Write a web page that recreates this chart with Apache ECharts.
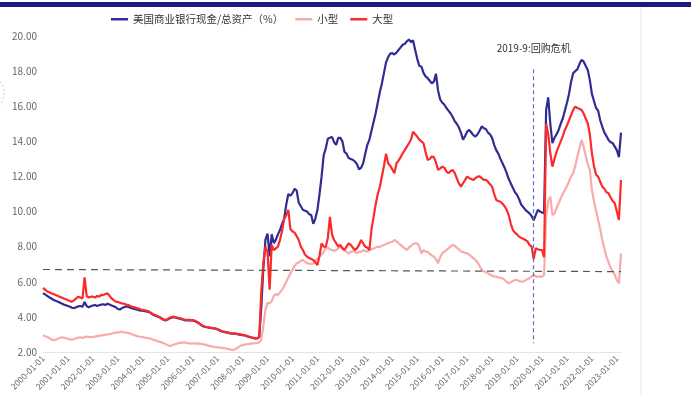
<!DOCTYPE html>
<html>
<head>
<meta charset="utf-8">
<script src="https://cdn.jsdelivr.net/npm/echarts@6/dist/echarts.min.js"></script>
<style>
  html, body { margin: 0; padding: 0; background: #fff; }
  #chart { width: 691px; height: 396px; }
</style>
</head>
<body>
<div id="chart"></div>
<script>
// monthly samples, 2000-01 .. 2023-03
const totalRatio = [
  5.35, 5.28, 5.20, 5.12, 5.05, 4.98, 4.92, 4.88, 4.82, 4.76, 4.70, 4.66,
  4.62, 4.58, 4.52, 4.50, 4.55, 4.60, 4.62, 4.58, 4.85, 4.62, 4.55, 4.60,
  4.65, 4.68, 4.62, 4.66, 4.70, 4.72, 4.68, 4.75, 4.70, 4.65, 4.60, 4.55,
  4.45, 4.42, 4.50, 4.55, 4.60, 4.58, 4.52, 4.48, 4.45, 4.42, 4.38, 4.35,
  4.35, 4.32, 4.30, 4.28, 4.20, 4.12, 4.07, 4.03, 3.98, 3.90, 3.84, 3.80,
  3.85, 3.92, 3.97, 3.98, 3.95, 3.92, 3.90, 3.86, 3.82, 3.80, 3.82, 3.80,
  3.80, 3.76, 3.70, 3.63, 3.54, 3.47, 3.43, 3.41, 3.38, 3.36, 3.34, 3.33,
  3.28, 3.23, 3.17, 3.15, 3.12, 3.10, 3.06, 3.04, 3.05, 3.03, 3.00, 2.98,
  2.96, 2.94, 2.90, 2.86, 2.84, 2.80, 2.78, 2.78, 2.85, 4.60, 6.80, 8.40,
  8.75, 7.45, 8.70, 8.20, 8.40, 8.70, 8.95, 9.30, 9.60, 10.40, 11.00, 10.90,
  11.05, 11.30, 11.20, 10.50, 10.30, 10.10, 10.05, 10.00, 9.85, 9.80, 9.30, 9.60,
  10.10, 11.00, 12.00, 13.20, 13.60, 14.15, 14.20, 14.25, 13.95, 13.80, 14.20, 14.20,
  14.00, 13.40, 13.30, 13.05, 13.00, 12.95, 12.85, 12.70, 12.40, 12.50, 12.75, 13.30,
  13.80, 14.10, 14.60, 15.10, 15.60, 16.20, 16.80, 17.30, 17.90, 18.50, 18.80, 19.00,
  19.02, 18.95, 19.05, 19.20, 19.35, 19.50, 19.55, 19.70, 19.80, 19.65, 19.75, 19.20,
  18.70, 18.30, 18.25, 17.90, 17.70, 17.60, 17.45, 17.30, 17.40, 17.85, 16.90, 16.40,
  16.20, 16.10, 15.90, 15.75, 15.60, 15.40, 15.15, 15.00, 14.80, 14.50, 14.10, 14.30,
  14.55, 14.65, 14.50, 14.35, 14.27, 14.40, 14.60, 14.85, 14.75, 14.70, 14.50, 14.40,
  14.20, 13.80, 13.50, 13.30, 13.00, 12.75, 12.50, 12.20, 11.85, 11.60, 11.35, 11.10,
  10.95, 10.70, 10.40, 10.25, 10.10, 10.00, 9.90, 9.75, 9.50, 9.80, 10.10, 10.00,
  9.95, 9.90, 15.80, 16.50, 15.00, 13.90, 14.20, 14.40, 14.65, 15.00, 15.30, 15.75,
  16.20, 16.70, 17.40, 17.88, 18.00, 18.10, 18.40, 18.64, 18.55, 18.30, 18.07, 17.50,
  16.70, 16.30, 15.90, 15.75, 15.20, 14.84, 14.50, 14.30, 14.08, 13.95, 13.90, 13.70,
  13.50, 13.10, 14.50
];
const smallBanks = [
  2.95, 2.90, 2.85, 2.80, 2.72, 2.68, 2.70, 2.75, 2.80, 2.84, 2.82, 2.78,
  2.75, 2.72, 2.70, 2.74, 2.78, 2.82, 2.84, 2.80, 2.85, 2.88, 2.86, 2.84,
  2.86, 2.88, 2.90, 2.92, 2.95, 2.96, 2.98, 3.00, 3.02, 3.05, 3.08, 3.10,
  3.12, 3.14, 3.16, 3.12, 3.10, 3.08, 3.05, 3.00, 2.96, 2.92, 2.88, 2.87,
  2.85, 2.82, 2.80, 2.78, 2.75, 2.70, 2.66, 2.62, 2.59, 2.55, 2.50, 2.45,
  2.38, 2.34, 2.38, 2.42, 2.46, 2.50, 2.52, 2.53, 2.55, 2.52, 2.50, 2.48,
  2.50, 2.48, 2.49, 2.48, 2.46, 2.44, 2.42, 2.38, 2.35, 2.32, 2.30, 2.27,
  2.27, 2.25, 2.24, 2.22, 2.20, 2.18, 2.15, 2.11, 2.14, 2.20, 2.28, 2.35,
  2.40, 2.42, 2.44, 2.46, 2.48, 2.49, 2.50, 2.52, 2.55, 2.70, 3.50, 4.40,
  4.80, 4.77, 4.90, 5.20, 5.30, 5.25, 5.40, 5.55, 5.75, 6.00, 6.25, 6.48,
  6.67, 6.90, 7.05, 7.10, 7.20, 7.24, 7.15, 7.05, 7.05, 7.00, 7.05, 7.20,
  7.30, 7.43, 7.55, 7.70, 7.91, 7.95, 7.85, 7.81, 7.75, 7.81, 7.90, 7.99,
  7.95, 7.80, 7.70, 7.62, 7.70, 7.75, 7.70, 7.62, 7.70, 7.72, 7.80, 7.75,
  7.72, 7.80, 7.85, 7.90, 7.95, 8.00, 7.99, 8.05, 8.10, 8.15, 8.19, 8.25,
  8.28, 8.38, 8.30, 8.20, 8.10, 8.00, 7.90, 7.81, 7.95, 8.05, 8.15, 8.19,
  8.19, 8.00, 7.62, 7.80, 7.72, 7.70, 7.60, 7.50, 7.43, 7.30, 7.05, 7.40,
  7.62, 7.70, 7.80, 7.90, 8.00, 8.10, 8.05, 7.95, 7.85, 7.72, 7.70, 7.65,
  7.62, 7.55, 7.45, 7.35, 7.24, 7.10, 6.90, 6.67, 6.60, 6.55, 6.48, 6.40,
  6.35, 6.30, 6.29, 6.25, 6.22, 6.20, 6.10, 6.00, 5.91, 5.98, 6.05, 6.10,
  6.10, 6.05, 6.00, 6.02, 6.08, 6.15, 6.20, 6.30, 6.39, 6.29, 6.30, 6.29,
  6.29, 6.40, 9.70, 10.60, 10.85, 9.80, 9.90, 10.20, 10.47, 10.75, 11.00, 11.23,
  11.45, 11.70, 12.00, 12.18, 12.60, 13.13, 13.60, 14.08, 13.70, 13.20, 12.70, 12.37,
  11.23, 10.60, 10.05, 9.52, 9.00, 8.38, 7.90, 7.43, 7.10, 6.80, 6.60, 6.40,
  6.10, 5.91, 7.62
];
const largeBanks = [
  5.65, 5.55, 5.45, 5.40, 5.34, 5.30, 5.25, 5.20, 5.15, 5.10, 5.05, 5.00,
  4.95, 4.90, 4.87, 4.95, 5.05, 5.15, 5.10, 5.05, 6.25, 5.20, 5.10, 5.15,
  5.15, 5.10, 5.20, 5.15, 5.25, 5.24, 5.30, 5.34, 5.20, 5.05, 4.95, 4.87,
  4.85, 4.80, 4.77, 4.75, 4.70, 4.68, 4.62, 4.58, 4.55, 4.50, 4.48, 4.42,
  4.40, 4.38, 4.35, 4.30, 4.22, 4.15, 4.10, 4.05, 4.00, 3.92, 3.86, 3.82,
  3.88, 3.95, 4.00, 4.01, 3.98, 3.95, 3.92, 3.88, 3.85, 3.82, 3.84, 3.82,
  3.82, 3.78, 3.72, 3.65, 3.55, 3.48, 3.44, 3.42, 3.40, 3.38, 3.36, 3.35,
  3.30, 3.25, 3.18, 3.16, 3.14, 3.12, 3.08, 3.06, 3.06, 3.04, 3.02, 3.00,
  2.98, 2.96, 2.92, 2.88, 2.85, 2.80, 2.78, 2.78, 2.85, 5.50, 7.10, 8.00,
  7.70, 5.55, 8.10, 7.80, 7.90, 8.00, 8.40, 8.90, 9.60, 9.80, 10.10, 9.00,
  8.86, 8.80, 8.60, 8.38, 8.00, 7.81, 7.55, 7.43, 7.35, 7.30, 7.24, 7.10,
  6.96, 7.50, 8.19, 8.00, 7.99, 8.50, 9.70, 8.70, 8.38, 8.20, 8.00, 8.10,
  7.90, 7.81, 8.00, 8.19, 8.10, 7.95, 7.81, 7.90, 8.10, 8.38, 8.19, 8.00,
  7.95, 7.81, 9.00, 9.70, 10.40, 11.00, 11.40, 12.00, 12.60, 13.30, 12.75, 12.60,
  12.40, 12.18, 12.75, 12.90, 13.10, 13.32, 13.50, 13.70, 13.89, 14.10, 14.55, 14.40,
  14.27, 14.10, 14.00, 13.89, 13.40, 12.94, 13.00, 13.13, 13.10, 12.80, 12.37, 12.45,
  12.56, 12.50, 12.30, 12.18, 12.30, 12.37, 12.20, 11.90, 11.61, 11.42, 11.60, 11.80,
  11.99, 11.90, 11.85, 11.80, 11.90, 11.99, 12.00, 11.90, 11.80, 11.80, 11.70, 11.55,
  11.42, 11.00, 10.66, 10.60, 10.56, 10.45, 10.30, 10.10, 9.80, 9.30, 8.95, 8.80,
  8.70, 8.57, 8.50, 8.45, 8.38, 8.30, 8.10, 8.00, 7.30, 7.91, 7.85, 7.81,
  7.81, 7.40, 15.00, 14.40, 13.32, 12.56, 13.00, 13.40, 13.70, 14.00, 14.30, 14.65,
  14.90, 15.20, 15.50, 15.79, 15.98, 15.90, 15.85, 15.79, 15.60, 15.30, 15.03, 14.40,
  13.32, 12.60, 12.10, 11.99, 11.70, 11.42, 11.30, 11.10, 11.04, 10.80, 10.60, 10.47,
  10.00, 9.52, 11.80
];

const seriesNames = ["美国商业银行现金/总资产（%）", "小型", "大型"];
const crisisLabel = "2019-9:回购危机";
const crisisMonth = "2019-09-01";
const refLevel = [6.70, 6.58];
const yTicks = { min: 2, max: 20, interval: 2 };

const months = [];
for (let y = 2000; months.length < totalRatio.length; y++) {
  for (let m = 1; m <= 12 && months.length < totalRatio.length; m++) {
    months.push(y + "-" + String(m).padStart(2, "0") + "-01");
  }
}

const chart = echarts.init(document.getElementById("chart"));
const font = "'Noto Sans CJK SC', 'Noto Sans', sans-serif";

chart.setOption({
  backgroundColor: "#fff",
  animation: false,
  textStyle: { fontFamily: font },
  legend: {
    data: seriesNames,
    left: 106, top: 9,
    icon: "rect", itemWidth: 17, itemHeight: 2.5, itemGap: 12,
    textStyle: { color: "#333", fontSize: 10.5, fontFamily: font }
  },
  grid: { left: 43, right: 70, top: 36, bottom: 44 },
  xAxis: {
    type: "category",
    data: months,
    boundaryGap: false,
    axisLine: { lineStyle: { color: "#e4e4e4" } },
    axisTick: { show: false },
    axisLabel: {
      interval: (i) => i % 12 === 0,
      rotate: 45, color: "#666", fontSize: 8.5, margin: 5
    },
    splitLine: { show: false }
  },
  yAxis: {
    type: "value",
    min: yTicks.min, max: yTicks.max, interval: yTicks.interval,
    axisLine: { show: false },
    axisTick: { show: false },
    splitLine: { show: false },
    axisLabel: { color: "#666", fontSize: 10, margin: 6, formatter: (v) => v.toFixed(2) }
  },
  series: [
    {
      name: seriesNames[0], type: "line", data: totalRatio,
      showSymbol: false, lineStyle: { width: 2.2, color: "#302c94" }, itemStyle: { color: "#302c94" },
      markLine: {
        silent: true, symbol: ["none", "none"],
        data: [
          [
            { coord: [months[0], refLevel[0]] },
            { coord: [months[months.length - 1], refLevel[1]] }
          ],
          [
            { coord: [crisisMonth, 18.1], label: { show: true } },
            { coord: [crisisMonth, 2.5] }
          ]
        ],
        lineStyle: { color: "#555", type: [7, 5], width: 1.2 },
        label: { show: false }
      }
    },
    {
      name: seriesNames[1], type: "line", data: smallBanks,
      showSymbol: false, lineStyle: { width: 2.2, color: "#f7abab" }, itemStyle: { color: "#f7abab" }
    },
    {
      name: seriesNames[2], type: "line", data: largeBanks,
      showSymbol: false, lineStyle: { width: 2.2, color: "#fb2b2b" }, itemStyle: { color: "#fb2b2b" }
    }
  ],
  graphic: [
    { type: "rect", left: 0, top: 2, shape: { width: 691, height: 5 }, style: { fill: "#1d1882" } },
    { type: "line", shape: { x1: 641, y1: 7, x2: 641, y2: 396 }, style: { stroke: "#e6e6e6", lineWidth: 1 } },
    { type: "circle", shape: { cx: -14, cy: 93, r: 18 }, style: { fill: "none", stroke: "#f7b8b8", lineWidth: 1, lineDash: [2, 2] } }
  ]
});

// style the crisis marker separately from the horizontal reference line
const opt = chart.getOption();
opt.series[0].markLine.data[1][0].lineStyle = { color: "#6470c4", type: [4, 3], width: 1.2 };
opt.series[0].markLine.data[1][0].label = {
  show: true, position: "start", distance: 16,
  formatter: crisisLabel, color: "#333", fontSize: 10, fontFamily: font
};
chart.setOption({ series: opt.series });
</script>
</body>
</html>
